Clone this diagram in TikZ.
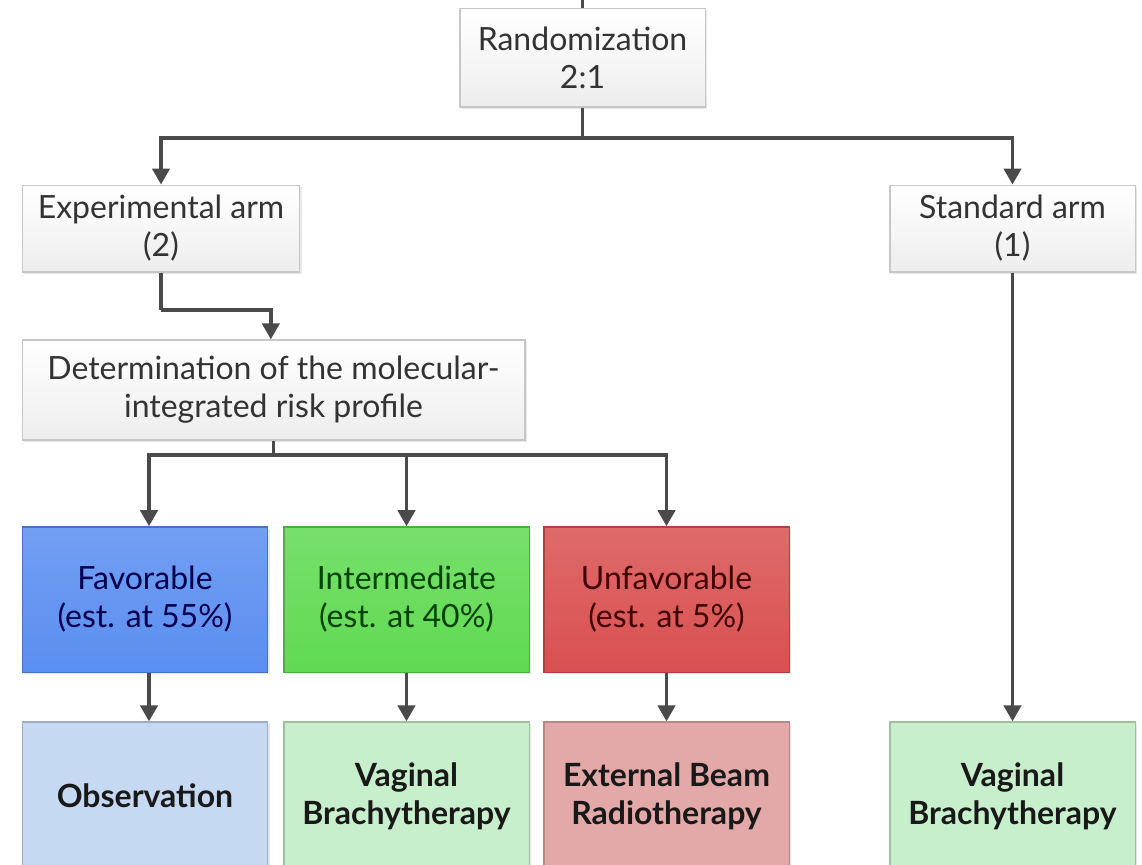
\documentclass[tikz,border=0pt]{standalone}
\usepackage{fontspec}
\setmainfont{Lato}
\usetikzlibrary{arrows.meta,shadows}
\definecolor{lineg}{HTML}{4A4A4A}
\definecolor{txtg}{HTML}{333333}
\definecolor{favc}{HTML}{5A8EF0}
\definecolor{intc}{HTML}{60DA52}
\definecolor{unfc}{HTML}{D95050}
\definecolor{obsc}{HTML}{C6D9F3}
\definecolor{vbc}{HTML}{C8EFCB}
\definecolor{ebc}{HTML}{E2A9A8}
\tikzset{
  box/.style={draw=black!22, line width=1pt, align=center, inner sep=2pt,
    font=\fontsize{24}{28.5}\selectfont,
    drop shadow={opacity=0.18, shadow xshift=1.5pt, shadow yshift=-1.5pt}},
  greybox/.style={box, top color=white, bottom color=black!7, text=txtg},
  riskbox/.style={box, draw=#1!80!black, top color=#1!85!white, bottom color=#1, minimum width=184pt, minimum height=109pt},
  treatbox/.style={box, draw=#1!80!black, fill=#1, minimum width=184pt, minimum height=111pt, font=\fontsize{24}{28.5}\selectfont\bfseries, text=black!90},
  conn/.style={draw=lineg, line width=2.6pt},
  arr/.style={conn, -{Triangle[width=13pt,length=12pt]}}
}
\begin{document}
\begin{tikzpicture}[x=0.75pt,y=-0.75pt]
\useasboundingbox (0,0) rectangle (1142,864);
%% grey boxes
\node[greybox, minimum width=184pt, minimum height=74pt] (rand) at (582.5,57.5) {Randomization\\2:1};
\node[greybox, minimum width=208pt, minimum height=65pt] (exp) at (161,228.5) {Experimental arm\\(2)};
\node[greybox, minimum width=184pt, minimum height=65pt] (std) at (1012.5,228.5) {Standard arm\\(1)};
\node[greybox, minimum width=377pt, minimum height=75pt] (det) at (273.5,390) {Determination of the molecular-\\integrated risk profile};
%% risk groups
\node[riskbox=favc, text=blue!30!black] (fav) at (145,599.5) {Favorable\\(est. at 55\%)};
\node[riskbox=intc, text=green!25!black] (int) at (406.5,599.5) {Intermediate\\(est. at 40\%)};
\node[riskbox=unfc, text=red!25!black] (unf) at (666.5,599.5) {Unfavorable\\(est. at 5\%)};
%% treatments (cut at the bottom)
\node[treatbox=obsc] (obs) at (145,796) {Observation};
\node[treatbox=vbc] (vb1) at (406.5,796) {Vaginal\\Brachytherapy};
\node[treatbox=ebc] (ebr) at (666.5,796) {External Beam\\Radiotherapy};
\node[treatbox=vbc] (vb2) at (1012.5,796) {Vaginal\\Brachytherapy};
%% connectors
\coordinate (top) at (582.5,0);
\coordinate (split) at (582.5,138);
\coordinate (bend) at (161,310);
\coordinate (fork) at (273.5,455);
\draw[conn] (top) -- (rand.north);
\draw[conn] (rand.south) -- (split);
\draw[arr] (split) -| (exp.north);
\draw[arr] (split) -| (std.north);
\draw[conn] (exp.south) -- (bend);
\draw[arr] (bend) -| ([xshift=-2pt]det.north);
\draw[conn] (det.south) -- (fork);
\draw[arr] (fork) -| ([xshift=3pt]fav.north);
\draw[arr] (fork) -| (int.north);
\draw[arr] (fork) -| (unf.north);
\draw[arr] ([xshift=3pt]fav.south) -- ([xshift=3pt]obs.north);
\draw[arr] (int.south) -- (vb1.north);
\draw[arr] (unf.south) -- (ebr.north);
\draw[arr] (std.south) -- (vb2.north);
\end{tikzpicture}
\end{document}
